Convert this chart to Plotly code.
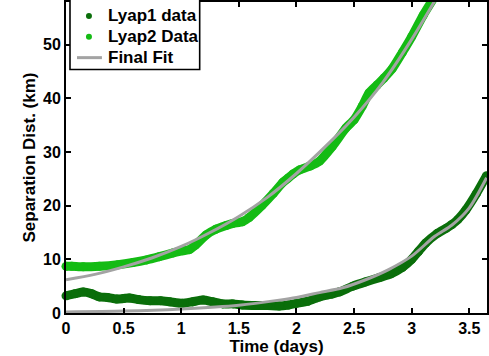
import plotly.graph_objects as go

# Separation distance between drifter pairs, read along time in days
lyap1_t = [0.00, 0.08, 0.15, 0.22, 0.29, 0.36, 0.44, 0.50, 0.55, 0.63, 0.73, 0.82, 0.90,
           1.01, 1.10, 1.19, 1.27, 1.36, 1.45, 1.53, 1.65, 1.75, 1.85, 1.93, 2.00, 2.10,
           2.20, 2.30, 2.37, 2.49, 2.60, 2.72, 2.82, 2.92, 3.00, 3.06, 3.12, 3.22, 3.30,
           3.35, 3.40, 3.47, 3.56, 3.65]
lyap1_km = [3.2, 3.6, 3.9, 3.6, 3.0, 2.9, 2.6, 2.7, 2.8, 2.5, 2.3, 2.3, 2.1,
            1.8, 2.1, 2.4, 2.1, 1.7, 1.7, 1.5, 1.4, 1.4, 1.3, 1.5, 1.8, 2.2,
            3.0, 3.5, 3.9, 5.0, 5.8, 6.6, 7.3, 8.5, 10.0, 11.5, 13.0, 14.8, 15.8,
            16.5, 17.4, 19.2, 22.2, 25.6]

lyap2_t = [0.00, 0.05, 0.15, 0.29, 0.45, 0.58, 0.70, 0.81, 0.93, 1.01, 1.07, 1.12, 1.22,
           1.30, 1.39, 1.45, 1.53, 1.59, 1.70, 1.80, 1.88, 1.92, 1.97, 2.03, 2.12, 2.20,
           2.31, 2.43, 2.50, 2.57, 2.63, 2.70, 2.76, 2.83, 2.92, 3.00, 3.10, 3.20]
lyap2_km = [8.7, 8.7, 8.6, 8.7, 9.0, 9.4, 9.9, 10.5, 11.2, 11.6, 11.8, 12.6, 14.6,
            15.6, 16.3, 16.7, 17.0, 17.8, 20.0, 22.3, 24.3, 25.0, 25.9, 26.7, 27.4, 28.3,
            31.0, 34.5, 36.0, 38.5, 41.0, 42.5, 43.8, 45.5, 48.6, 51.5, 55.5, 59.0]

# Final fitted curves
fit1_t = [0.0, 0.5, 1.0, 1.5, 1.85, 2.0, 2.2, 2.4, 2.6, 2.8, 3.0, 3.2, 3.35, 3.5, 3.65]
fit1_km = [0.2, 0.35, 0.75, 1.45, 2.4, 2.9, 3.8, 4.7, 6.2, 8.1, 10.6, 14.3, 16.4, 19.6, 25.2]

fit2_t = [0.0, 0.25, 0.5, 0.75, 1.0, 1.25, 1.5, 1.75, 2.0, 2.25, 2.5, 2.75, 3.0, 3.25]
fit2_km = [6.2, 7.2, 8.6, 10.3, 12.4, 15.0, 18.0, 21.6, 26.0, 31.0, 36.5, 43.0, 51.0, 60.0]

x_ticks = [0, 0.5, 1, 1.5, 2, 2.5, 3, 3.5]
x_tick_text = ["0", "0.5", "1", "1.5", "2", "2.5", "3", "3.5"]
y_ticks = [0, 10, 20, 30, 40, 50]

legend_labels = ["Lyap1 data", "Lyap2 Data", "Final Fit"]

DARK = "#0a6e0a"
LIGHT = "#14bb14"
GRAY = "#a3a3a3"
FONT = "Liberation Sans"

fig = go.Figure()

fig.add_trace(go.Scatter(
    x=lyap1_t, y=lyap1_km, mode="lines+markers",
    line=dict(color=DARK, width=9, shape="spline", smoothing=0.6),
    marker=dict(color=DARK, size=9), cliponaxis=False, showlegend=False))
fig.add_trace(go.Scatter(
    x=lyap2_t, y=lyap2_km, mode="lines+markers",
    line=dict(color=LIGHT, width=9, shape="spline", smoothing=0.6),
    marker=dict(color=LIGHT, size=9), cliponaxis=False, showlegend=False))
for ft, fk in [(fit1_t, fit1_km), (fit2_t, fit2_km)]:
    fig.add_trace(go.Scatter(
        x=ft, y=fk, mode="lines",
        line=dict(color=GRAY, width=3, shape="spline", smoothing=0.8),
        showlegend=False))

# Plot area in pixels: left 66, right 488, top 0, bottom 313
PL, PR, PT, PB = 66, 488, 0, 313


def px_x(p):
    return (p - PL) / (PR - PL)


def px_y(p):
    return (PB - p) / (PB - PT)


# Hand-built legend box (top edge runs above the page)
shapes = [
    dict(type="rect", xref="paper", yref="paper",
         x0=px_x(70), x1=px_x(200), y0=px_y(68), y1=1.05,
         line=dict(color="black", width=1.6), fillcolor="white", layer="above"),
    dict(type="line", xref="paper", yref="paper",
         x0=px_x(77), x1=px_x(102), y0=px_y(56), y1=px_y(56),
         line=dict(color=GRAY, width=3), layer="above"),
]
for cy, col in [(14, DARK), (35, LIGHT)]:
    shapes.append(dict(type="circle", xref="paper", yref="paper",
                       xsizemode="pixel", ysizemode="pixel",
                       xanchor=px_x(89), yanchor=px_y(cy),
                       x0=-3, x1=3, y0=-3, y1=3,
                       line=dict(color=col, width=0), fillcolor=col, layer="above"))

annotations = []
for label, cy in zip(legend_labels, [14, 35, 56]):
    annotations.append(dict(text=label, xref="paper", yref="paper",
                            x=px_x(106), y=px_y(cy), xanchor="left", yanchor="middle",
                            showarrow=False,
                            font=dict(family=FONT, size=17, color="black", weight="bold")))

fig.update_layout(
    width=489, height=356,
    margin=dict(l=PL, r=489 - PR, t=PT, b=356 - PB),
    paper_bgcolor="white", plot_bgcolor="white",
    font=dict(family=FONT, size=16, color="black", weight="bold"),
    shapes=shapes, annotations=annotations,
    xaxis=dict(
        range=[0, (PR - PL) / 115.5], tickvals=x_ticks, ticktext=x_tick_text,
        ticks="inside", ticklen=5, tickwidth=1.5, tickcolor="black",
        showline=True, linecolor="black", linewidth=2, mirror="ticks",
        showgrid=False, zeroline=False,
        tickfont=dict(family=FONT, size=16, color="black", weight="bold"),
        title=dict(text="Time (days)", standoff=0,
                   font=dict(family=FONT, size=17, color="black", weight="bold"))),
    yaxis=dict(
        range=[0, (PB - PT) / 5.4], tickvals=y_ticks,
        ticks="inside", ticklen=5, tickwidth=1.5, tickcolor="black",
        showline=True, linecolor="black", linewidth=2, mirror="ticks",
        showgrid=False, zeroline=False,
        tickfont=dict(family=FONT, size=16, color="black", weight="bold"),
        title=dict(text="Separation Dist. (km)", standoff=3,
                   font=dict(family=FONT, size=17, color="black", weight="bold"))),
)

fig.write_html("out.html")
